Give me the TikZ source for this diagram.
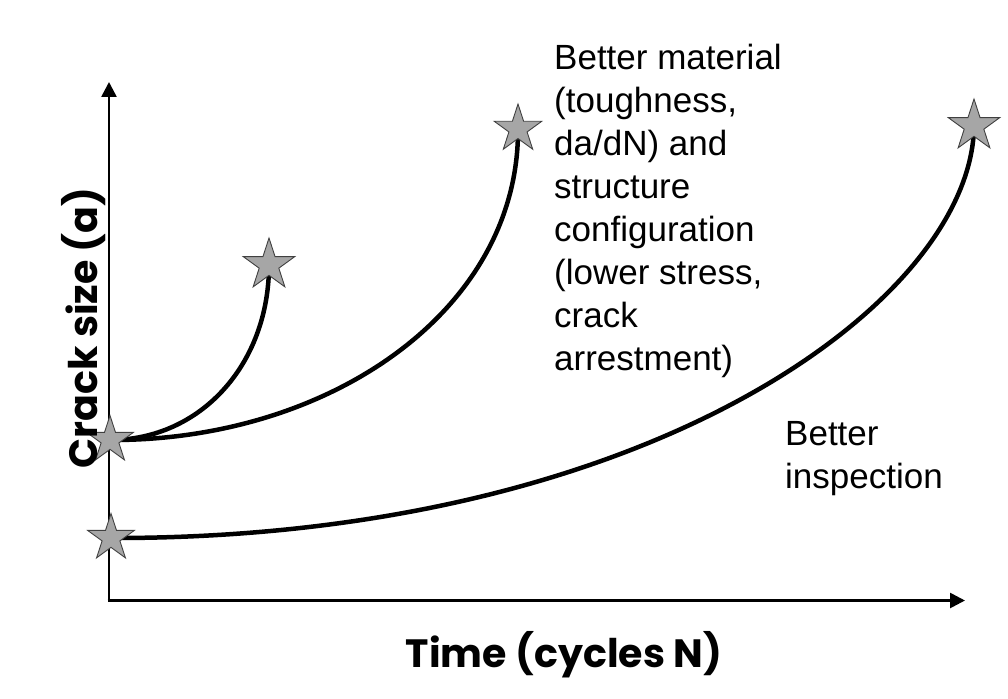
\documentclass[tikz,border=0pt]{standalone}
\usepackage{fontspec}
\setmainfont{Liberation Sans}
\newfontfamily\axisfont{Poppins}
\usetikzlibrary{shapes.geometric,arrows.meta}
\definecolor{stargray}{HTML}{A6A6A6}
\definecolor{staredge}{HTML}{404040}
\tikzset{
  mystar/.style={star, star points=5, star point ratio=2.618, inner sep=0pt,
    fill=stargray, draw=staredge, line width=0.9pt, minimum size=#1},
  axisline/.style={line width=2.6pt, -{Triangle[length=15pt,width=15pt]}},
  crackcurve/.style={line width=4.5pt},
  bodytext/.style={inner sep=0pt, align=left, anchor=north west,
    font=\fontsize{35}{43}\selectfont},
  axislabel/.style={inner sep=0pt, font=\axisfont\bfseries\fontsize{39.5}{44}\selectfont},
}
\begin{document}
\begin{tikzpicture}[x=1pt,y=-1pt]
\useasboundingbox (0,0) rectangle (1008,698);
% axes
\coordinate (o) at (109,600.5);
\coordinate (ytip) at (109,82);
\coordinate (xtip) at (965,600.5);
\draw[axisline] ([yshift=1.3pt]o) -- (ytip);
\draw[axisline] ([xshift=-1.3pt]o) -- (xtip);
% stars (positions)
\node[mystar=49pt, draw=none, fill=none] (s0) at (110,440) {};
\node[mystar=49pt, draw=none, fill=none] (s00) at (111,538) {};
\node[mystar=54pt, draw=none, fill=none] (s1) at (269,265) {};
\node[mystar=50pt, draw=none, fill=none] (s2) at (518,129) {};
\node[mystar=54pt, draw=none, fill=none] (s3) at (974,126) {};
% curves
\draw[crackcurve] (s0.center) .. controls (200,440) and (269,365) .. (s1.center);
\draw[crackcurve] (s0.center) .. controls (330,441) and (519,310) .. (s2.center);
\draw[crackcurve] (s00.center) .. controls (650,539) and (972,300) .. (s3.center);
% visible stars on top
\node[mystar=49pt] at (s0) {};
\node[mystar=49pt] at (s00) {};
\node[mystar=54pt] at (s1) {};
\node[mystar=50pt] at (s2) {};
\node[mystar=54pt] at (s3) {};
% texts
\node[bodytext] (mat) at (554,44) {Better material\\(toughness,\\da/dN) and\\structure\\configuration\\(lower stress,\\crack\\arrestment)};
\node[bodytext] (insp) at (785,421) {Better\\inspection};
\node[axislabel, anchor=base] (xlab) at (564,667) {Time (cycles N)};
\node[axislabel, anchor=base, rotate=90] (ylab) at (97,328) {Crack size (a)};
\end{tikzpicture}
\end{document}
